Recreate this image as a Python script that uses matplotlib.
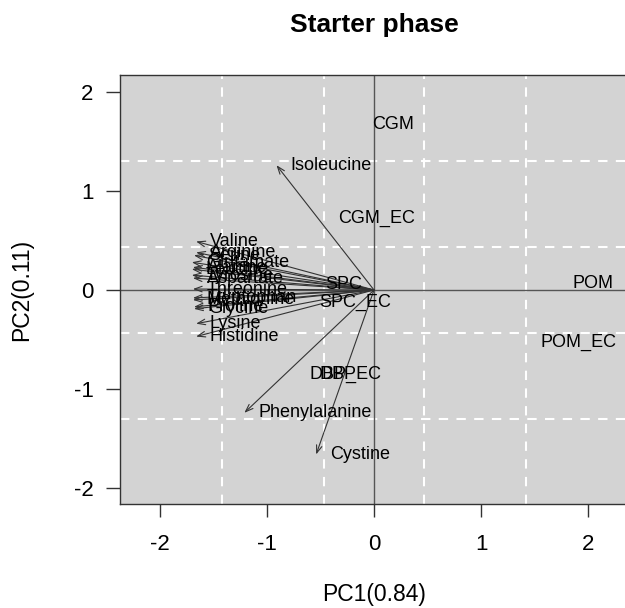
import matplotlib.pyplot as plt

plt.rcParams['font.family'] = ['Liberation Sans', 'DejaVu Sans']

# amino acid loadings (arrow tips)
aa_names = ['Isoleucine', 'Phenylalanine', 'Cystine', 'Valine', 'Arginine', 'Serine',
            'Glutamate', 'Alanine', 'Leucine', 'Tyrosine', 'Aspartate', 'Threonine',
            'Tryptophan', 'Methionine', 'Proline', 'Glycine', 'Lysine', 'Histidine']
aa_pc1 = [-0.91, -1.21, -0.54, -1.66, -1.66, -1.68,
          -1.70, -1.69, -1.70, -1.70, -1.69, -1.69,
          -1.69, -1.69, -1.68, -1.68, -1.66, -1.66]
aa_pc2 = [1.26, -1.24, -1.66, 0.49, 0.38, 0.35,
          0.28, 0.23, 0.21, 0.15, 0.12, 0.01,
          -0.08, -0.10, -0.17, -0.19, -0.34, -0.47]

# diet scores
diet_names = ['CGM', 'CGM_EC', 'SPC', 'SPC_EC', 'POM', 'POM_EC', 'DBP', 'DBP_EC']
diet_pc1 = [0.18, 0.02, -0.28, -0.18, 2.04, 1.91, -0.34, -0.27]
diet_pc2 = [1.67, 0.72, 0.06, -0.13, 0.07, -0.53, -0.85, -0.85]

grid_x = [-1.42, -0.47, 0.47, 1.42]
grid_y = [-1.30, -0.43, 0.43, 1.30]

fig = plt.figure(figsize=(6.25, 6.08), dpi=100)
ax = fig.add_axes([120/625, 104/608, 508/625, 429/608])
ax.set_facecolor('#d3d3d3')
ax.set_xlim(-2.37, 2.37)
ax.set_ylim(-2.16, 2.17)

for g in grid_x:
    ax.axvline(g, color='white', lw=1.5, ls=(0, (4.5, 4)), zorder=1)
for g in grid_y:
    ax.axhline(g, color='white', lw=1.5, ls=(0, (4.5, 4)), zorder=1)
ax.axvline(0, color='#555555', lw=1, zorder=2)
ax.axhline(0, color='#555555', lw=1, zorder=2)

for n, x, y in zip(aa_names, aa_pc1, aa_pc2):
    ax.annotate('', xy=(x, y), xytext=(0, 0),
                arrowprops=dict(arrowstyle='->,head_length=0.55,head_width=0.2',
                                color='#333333', lw=0.8, shrinkA=0, shrinkB=0),
                zorder=3)
    ax.annotate(n, xy=(x, y), xytext=(10, 0), textcoords='offset points',
                ha='left', va='center', fontsize=13, color='black', zorder=4)

for n, x, y in zip(diet_names, diet_pc1, diet_pc2):
    ax.text(x, y, n, ha='center', va='center', fontsize=13, zorder=4)

ax.set_xticks([-2, -1, 0, 1, 2])
ax.set_yticks([-2, -1, 0, 1, 2])
ax.set_xticklabels(['-2', '-1', '0', '1', '2'])
ax.set_yticklabels(['-2', '-1', '0', '1', '2'])
ax.tick_params(axis='x', length=9.5, width=1, pad=12, labelsize=16, color='#333333')
ax.tick_params(axis='y', length=10, width=1, pad=9, labelsize=16, color='#333333')
for s in ax.spines.values():
    s.set_color('#333333')
    s.set_linewidth(1)

fig.text(374/625, 1 - 594/608, 'PC1(0.84)', ha='center', va='center', fontsize=16.5)
fig.text(22/625, 1 - 290/608, 'PC2(0.11)', ha='center', va='center', fontsize=16.5,
         rotation=90)
fig.text(374/625, 1 - 25/608, 'Starter phase', ha='center', va='center',
         fontsize=19, fontweight='bold')

plt.savefig('out.png', dpi=100)
